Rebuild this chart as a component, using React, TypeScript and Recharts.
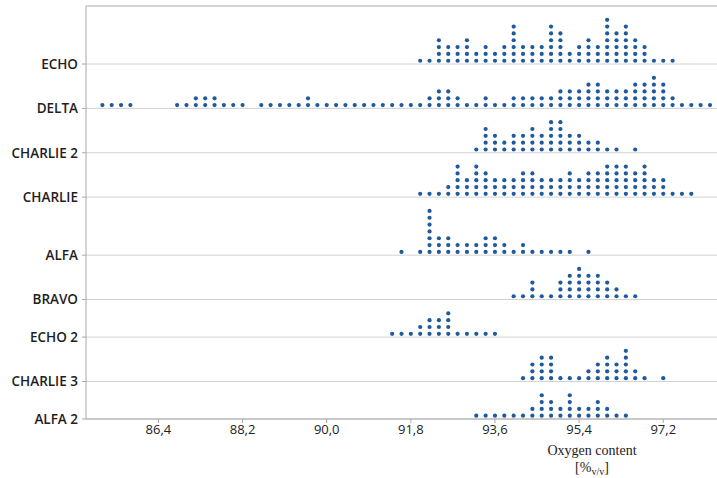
import { CartesianGrid, ReferenceLine, Scatter, ScatterChart, XAxis, YAxis } from "recharts";

// Oxygen content dot plot — one dot per measurement, stacked in 0.2 bins.
const BIN = 0.2;

const CATEGORIES = ["ECHO", "DELTA", "CHARLIE 2", "CHARLIE", "ALFA", "BRAVO", "ECHO 2", "CHARLIE 3", "ALFA 2"];

// first bin of each category (same order as CATEGORIES)
const START_VALUES = [92.0, 85.2, 93.2, 92.0, 91.6, 94.0, 91.4, 94.2, 93.2];

// dots per bin, read left to right
const ECHO = [1, 1, 4, 3, 3, 4, 2, 3, 2, 3, 6, 3, 3, 3, 6, 5, 2, 3, 4, 3, 7, 5, 6, 4, 3, 1, 1, 1];
const DELTA = [
  1, 1, 1, 1, 0, 0, 0, 0, 1, 1, 2, 2, 2, 1, 1, 1, 0, 1, 1, 1, 1, 1, 2, 1, 1, 1, 1, 1, 1, 1, 1, 1, 1, 1, 1,
  2, 3, 3, 2, 1, 1, 2, 1, 1, 2, 2, 2, 2, 2, 3, 3, 3, 4, 4, 3, 3, 3, 4, 4, 5, 4, 2, 1, 1, 1, 1,
];
const CHARLIE_2 = [1, 4, 3, 2, 3, 3, 4, 3, 5, 5, 3, 3, 2, 2, 1, 1, 0, 1];
const CHARLIE = [1, 1, 1, 2, 5, 3, 5, 4, 3, 3, 3, 4, 4, 3, 3, 3, 4, 3, 4, 4, 5, 5, 5, 4, 5, 3, 3, 1, 1, 1];
const ALFA = [1, 0, 1, 7, 3, 3, 2, 2, 2, 3, 3, 2, 1, 2, 1, 1, 1, 1, 1, 0, 1];
const BRAVO = [1, 1, 3, 1, 1, 3, 4, 5, 4, 4, 3, 2, 1, 1];
const ECHO_2 = [1, 1, 1, 2, 3, 3, 4, 1, 1, 1, 1, 1];
const CHARLIE_3 = [1, 3, 4, 4, 1, 1, 1, 2, 3, 4, 3, 5, 2, 1, 0, 1];
const ALFA_2 = [1, 1, 1, 1, 1, 1, 2, 4, 3, 2, 4, 2, 2, 3, 2, 1, 1];

const COUNTS = [ECHO, DELTA, CHARLIE_2, CHARLIE, ALFA, BRAVO, ECHO_2, CHARLIE_3, ALFA_2];

const X_TICKS = [86.4, 88.2, 90.0, 91.8, 93.6, 95.4, 97.2];

const DOT_COLOR = "#1f5a9e";
const ROW_PAD = 1.5; // empty space above the tallest stack, in dot units
const DOT_LIFT = 0.48; // first dot sits a little above its line

// row baselines in dot units, bottom row at 0
const rowHeights = COUNTS.map((c) => Math.max(...c) + ROW_PAD);
const baselines: number[] = [];
{
  let acc = 0;
  for (let i = CATEGORIES.length - 1; i >= 0; i--) {
    baselines[i] = acc;
    acc += rowHeights[i];
  }
}
const TOP = rowHeights.reduce((a, b) => a + b, 0);

const points = COUNTS.flatMap((counts, k) =>
  counts.flatMap((n, i) =>
    Array.from({ length: n }, (_, j) => ({
      x: START_VALUES[k] + i * BIN,
      y: baselines[k] + DOT_LIFT + j,
    }))
  )
);

const labelFor = (v: number) => {
  const i = baselines.findIndex((b) => Math.abs(b - v) < 1e-6);
  return i >= 0 ? CATEGORIES[i] : "";
};

const Dot = (props: any) => <circle cx={props.cx} cy={props.cy} r={2.1} fill={DOT_COLOR} />;

const AxisTitle = () => (
  <g fontFamily="'Liberation Serif', serif" fontSize={14} fill="#222" textAnchor="middle">
    <text x={592} y={455}>Oxygen content</text>
    <text x={592} y={472}>
      [%<tspan fontSize={10} dy={3}>v/v</tspan>
      <tspan dy={-3}>]</tspan>
    </text>
  </g>
);

const App = () => (
  <div style={{ position: "absolute", left: 0, top: 0, width: 717, height: 478, background: "#fff" }}>
    <ScatterChart width={717} height={478} margin={{ top: 6, right: 0, bottom: 29, left: 0 }}>
      <CartesianGrid vertical={false} stroke="#d2d2d2" />
      <XAxis
        type="number"
        dataKey="x"
        domain={[84.85, 98.35]}
        ticks={X_TICKS}
        interval={0}
        height={30}
        tickSize={4}
        tickMargin={2}
        stroke="#a8a8a8"
        tick={{ fill: "#222", fontSize: 13, fontFamily: "'Open Sans', sans-serif" }}
        tickFormatter={(v: number) => v.toFixed(1).replace(".", ",")}
      />
      <YAxis
        type="number"
        dataKey="y"
        domain={[0, TOP]}
        ticks={baselines}
        interval={0}
        width={86}
        tickSize={4}
        tickMargin={4}
        stroke="#a8a8a8"
        tick={{ fill: "#1e1e1e", fontSize: 13.5, fontWeight: 600, fontFamily: "'Open Sans', sans-serif" }}
        tickFormatter={labelFor}
      />
      <ReferenceLine y={TOP} stroke="#bdbdbd" />
      <Scatter data={points} shape={<Dot />} isAnimationActive={false} />
      <AxisTitle />
    </ScatterChart>
  </div>
);

export default App;
